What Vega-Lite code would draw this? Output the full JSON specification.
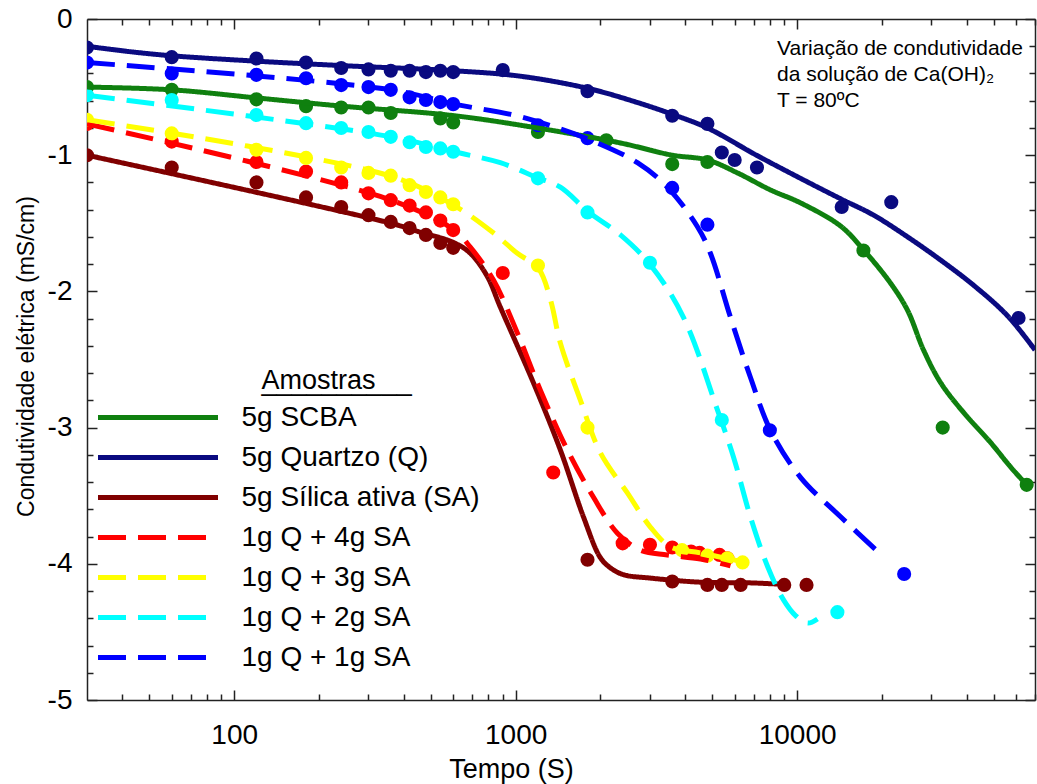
{
  "$schema": "https://vega.github.io/schema/vega-lite/v6.json",
  "width": 948,
  "height": 681,
  "autosize": {"type": "none"},
  "padding": {"left": 87, "top": 19, "right": 2, "bottom": 84},
  "background": "white",
  "config": {"font": "Liberation Sans", "view": {"stroke": null}},
  "title": {
    "text": ["Variação de condutividade", "da solução de Ca(OH)₂", "T = 80ºC"],
    "anchor": "start",
    "frame": "group",
    "orient": "top",
    "dx": 690,
    "offset": -106,
    "baseline": "top",
    "fontSize": 21,
    "fontWeight": "normal",
    "color": "black",
    "lineHeight": 26
  },
  "datasets": {
    "medidas": [
      {"amostra": "5g SCBA", "t": 30, "c": -0.50}, {"amostra": "5g SCBA", "t": 60, "c": -0.52}, {"amostra": "5g SCBA", "t": 120, "c": -0.59}, {"amostra": "5g SCBA", "t": 180, "c": -0.64}, {"amostra": "5g SCBA", "t": 240, "c": -0.65}, {"amostra": "5g SCBA", "t": 300, "c": -0.65}, {"amostra": "5g SCBA", "t": 360, "c": -0.69}, {"amostra": "5g SCBA", "t": 540, "c": -0.73}, {"amostra": "5g SCBA", "t": 600, "c": -0.76}, {"amostra": "5g SCBA", "t": 1200, "c": -0.83}, {"amostra": "5g SCBA", "t": 2100, "c": -0.89}, {"amostra": "5g SCBA", "t": 3600, "c": -1.065}, {"amostra": "5g SCBA", "t": 4800, "c": -1.05}, {"amostra": "5g SCBA", "t": 17200, "c": -1.70}, {"amostra": "5g SCBA", "t": 32900, "c": -3.00}, {"amostra": "5g SCBA", "t": 65400, "c": -3.42},
      {"amostra": "5g Quartzo (Q)", "t": 30, "c": -0.21}, {"amostra": "5g Quartzo (Q)", "t": 60, "c": -0.28}, {"amostra": "5g Quartzo (Q)", "t": 120, "c": -0.29}, {"amostra": "5g Quartzo (Q)", "t": 180, "c": -0.32}, {"amostra": "5g Quartzo (Q)", "t": 240, "c": -0.36}, {"amostra": "5g Quartzo (Q)", "t": 300, "c": -0.37}, {"amostra": "5g Quartzo (Q)", "t": 360, "c": -0.38}, {"amostra": "5g Quartzo (Q)", "t": 420, "c": -0.38}, {"amostra": "5g Quartzo (Q)", "t": 480, "c": -0.39}, {"amostra": "5g Quartzo (Q)", "t": 540, "c": -0.38}, {"amostra": "5g Quartzo (Q)", "t": 600, "c": -0.39}, {"amostra": "5g Quartzo (Q)", "t": 900, "c": -0.375}, {"amostra": "5g Quartzo (Q)", "t": 1800, "c": -0.53}, {"amostra": "5g Quartzo (Q)", "t": 3600, "c": -0.71}, {"amostra": "5g Quartzo (Q)", "t": 4800, "c": -0.77}, {"amostra": "5g Quartzo (Q)", "t": 5400, "c": -0.98}, {"amostra": "5g Quartzo (Q)", "t": 6000, "c": -1.035}, {"amostra": "5g Quartzo (Q)", "t": 7200, "c": -1.09}, {"amostra": "5g Quartzo (Q)", "t": 14400, "c": -1.38}, {"amostra": "5g Quartzo (Q)", "t": 21600, "c": -1.345}, {"amostra": "5g Quartzo (Q)", "t": 61200, "c": -2.195},
      {"amostra": "5g Sílica ativa (SA)", "t": 30, "c": -1.00}, {"amostra": "5g Sílica ativa (SA)", "t": 60, "c": -1.09}, {"amostra": "5g Sílica ativa (SA)", "t": 120, "c": -1.20}, {"amostra": "5g Sílica ativa (SA)", "t": 180, "c": -1.31}, {"amostra": "5g Sílica ativa (SA)", "t": 240, "c": -1.38}, {"amostra": "5g Sílica ativa (SA)", "t": 300, "c": -1.44}, {"amostra": "5g Sílica ativa (SA)", "t": 360, "c": -1.49}, {"amostra": "5g Sílica ativa (SA)", "t": 420, "c": -1.535}, {"amostra": "5g Sílica ativa (SA)", "t": 480, "c": -1.585}, {"amostra": "5g Sílica ativa (SA)", "t": 540, "c": -1.645}, {"amostra": "5g Sílica ativa (SA)", "t": 600, "c": -1.68}, {"amostra": "5g Sílica ativa (SA)", "t": 1800, "c": -3.97}, {"amostra": "5g Sílica ativa (SA)", "t": 3600, "c": -4.13}, {"amostra": "5g Sílica ativa (SA)", "t": 4800, "c": -4.155}, {"amostra": "5g Sílica ativa (SA)", "t": 5400, "c": -4.155}, {"amostra": "5g Sílica ativa (SA)", "t": 6300, "c": -4.155}, {"amostra": "5g Sílica ativa (SA)", "t": 9000, "c": -4.155}, {"amostra": "5g Sílica ativa (SA)", "t": 10800, "c": -4.155},
      {"amostra": "1g Q + 4g SA", "t": 30, "c": -0.77}, {"amostra": "1g Q + 4g SA", "t": 60, "c": -0.90}, {"amostra": "1g Q + 4g SA", "t": 120, "c": -1.05}, {"amostra": "1g Q + 4g SA", "t": 180, "c": -1.12}, {"amostra": "1g Q + 4g SA", "t": 240, "c": -1.20}, {"amostra": "1g Q + 4g SA", "t": 300, "c": -1.28}, {"amostra": "1g Q + 4g SA", "t": 360, "c": -1.33}, {"amostra": "1g Q + 4g SA", "t": 420, "c": -1.37}, {"amostra": "1g Q + 4g SA", "t": 480, "c": -1.42}, {"amostra": "1g Q + 4g SA", "t": 540, "c": -1.48}, {"amostra": "1g Q + 4g SA", "t": 600, "c": -1.55}, {"amostra": "1g Q + 4g SA", "t": 900, "c": -1.865}, {"amostra": "1g Q + 4g SA", "t": 1360, "c": -3.33}, {"amostra": "1g Q + 4g SA", "t": 2400, "c": -3.85}, {"amostra": "1g Q + 4g SA", "t": 3000, "c": -3.86}, {"amostra": "1g Q + 4g SA", "t": 3600, "c": -3.88}, {"amostra": "1g Q + 4g SA", "t": 4200, "c": -3.91}, {"amostra": "1g Q + 4g SA", "t": 4500, "c": -3.92}, {"amostra": "1g Q + 4g SA", "t": 5300, "c": -3.935}, {"amostra": "1g Q + 4g SA", "t": 5650, "c": -3.96},
      {"amostra": "1g Q + 3g SA", "t": 30, "c": -0.74}, {"amostra": "1g Q + 3g SA", "t": 60, "c": -0.84}, {"amostra": "1g Q + 3g SA", "t": 120, "c": -0.96}, {"amostra": "1g Q + 3g SA", "t": 180, "c": -1.02}, {"amostra": "1g Q + 3g SA", "t": 240, "c": -1.09}, {"amostra": "1g Q + 3g SA", "t": 300, "c": -1.13}, {"amostra": "1g Q + 3g SA", "t": 360, "c": -1.15}, {"amostra": "1g Q + 3g SA", "t": 420, "c": -1.22}, {"amostra": "1g Q + 3g SA", "t": 480, "c": -1.27}, {"amostra": "1g Q + 3g SA", "t": 540, "c": -1.31}, {"amostra": "1g Q + 3g SA", "t": 600, "c": -1.36}, {"amostra": "1g Q + 3g SA", "t": 1200, "c": -1.81}, {"amostra": "1g Q + 3g SA", "t": 1800, "c": -3.00}, {"amostra": "1g Q + 3g SA", "t": 3900, "c": -3.90}, {"amostra": "1g Q + 3g SA", "t": 4800, "c": -3.94}, {"amostra": "1g Q + 3g SA", "t": 5650, "c": -3.96}, {"amostra": "1g Q + 3g SA", "t": 6400, "c": -3.99},
      {"amostra": "1g Q + 2g SA", "t": 30, "c": -0.56}, {"amostra": "1g Q + 2g SA", "t": 60, "c": -0.595}, {"amostra": "1g Q + 2g SA", "t": 120, "c": -0.705}, {"amostra": "1g Q + 2g SA", "t": 180, "c": -0.765}, {"amostra": "1g Q + 2g SA", "t": 240, "c": -0.80}, {"amostra": "1g Q + 2g SA", "t": 300, "c": -0.83}, {"amostra": "1g Q + 2g SA", "t": 360, "c": -0.865}, {"amostra": "1g Q + 2g SA", "t": 420, "c": -0.905}, {"amostra": "1g Q + 2g SA", "t": 480, "c": -0.94}, {"amostra": "1g Q + 2g SA", "t": 540, "c": -0.95}, {"amostra": "1g Q + 2g SA", "t": 600, "c": -0.975}, {"amostra": "1g Q + 2g SA", "t": 1200, "c": -1.17}, {"amostra": "1g Q + 2g SA", "t": 1800, "c": -1.42}, {"amostra": "1g Q + 2g SA", "t": 3000, "c": -1.79}, {"amostra": "1g Q + 2g SA", "t": 5400, "c": -2.945}, {"amostra": "1g Q + 2g SA", "t": 13900, "c": -4.355},
      {"amostra": "1g Q + 1g SA", "t": 30, "c": -0.32}, {"amostra": "1g Q + 1g SA", "t": 60, "c": -0.40}, {"amostra": "1g Q + 1g SA", "t": 120, "c": -0.41}, {"amostra": "1g Q + 1g SA", "t": 180, "c": -0.435}, {"amostra": "1g Q + 1g SA", "t": 240, "c": -0.485}, {"amostra": "1g Q + 1g SA", "t": 300, "c": -0.50}, {"amostra": "1g Q + 1g SA", "t": 360, "c": -0.52}, {"amostra": "1g Q + 1g SA", "t": 420, "c": -0.575}, {"amostra": "1g Q + 1g SA", "t": 480, "c": -0.595}, {"amostra": "1g Q + 1g SA", "t": 540, "c": -0.61}, {"amostra": "1g Q + 1g SA", "t": 600, "c": -0.625}, {"amostra": "1g Q + 1g SA", "t": 1200, "c": -0.78}, {"amostra": "1g Q + 1g SA", "t": 1800, "c": -0.875}, {"amostra": "1g Q + 1g SA", "t": 3600, "c": -1.24}, {"amostra": "1g Q + 1g SA", "t": 4800, "c": -1.51}, {"amostra": "1g Q + 1g SA", "t": 8000, "c": -3.02}, {"amostra": "1g Q + 1g SA", "t": 24000, "c": -4.075}
    ],
    "ajustes": [
      {"amostra": "5g SCBA", "t": 30, "c": -0.50}, {"amostra": "5g SCBA", "t": 60, "c": -0.52}, {"amostra": "5g SCBA", "t": 121, "c": -0.58}, {"amostra": "5g SCBA", "t": 242, "c": -0.64}, {"amostra": "5g SCBA", "t": 605, "c": -0.71}, {"amostra": "5g SCBA", "t": 1194, "c": -0.80}, {"amostra": "5g SCBA", "t": 2355, "c": -0.91}, {"amostra": "5g SCBA", "t": 3605, "c": -1.00}, {"amostra": "5g SCBA", "t": 4800, "c": -1.035}, {"amostra": "5g SCBA", "t": 6140, "c": -1.13}, {"amostra": "5g SCBA", "t": 8040, "c": -1.255}, {"amostra": "5g SCBA", "t": 10280, "c": -1.35}, {"amostra": "5g SCBA", "t": 14270, "c": -1.52}, {"amostra": "5g SCBA", "t": 17220, "c": -1.695}, {"amostra": "5g SCBA", "t": 21480, "c": -1.94}, {"amostra": "5g SCBA", "t": 24690, "c": -2.14}, {"amostra": "5g SCBA", "t": 28120, "c": -2.43}, {"amostra": "5g SCBA", "t": 32340, "c": -2.67}, {"amostra": "5g SCBA", "t": 39050, "c": -2.89}, {"amostra": "5g SCBA", "t": 48700, "c": -3.11}, {"amostra": "5g SCBA", "t": 57370, "c": -3.29}, {"amostra": "5g SCBA", "t": 65380, "c": -3.42},
      {"amostra": "5g Quartzo (Q)", "t": 30, "c": -0.20}, {"amostra": "5g Quartzo (Q)", "t": 42.7, "c": -0.24}, {"amostra": "5g Quartzo (Q)", "t": 60, "c": -0.27}, {"amostra": "5g Quartzo (Q)", "t": 121, "c": -0.31}, {"amostra": "5g Quartzo (Q)", "t": 258, "c": -0.345}, {"amostra": "5g Quartzo (Q)", "t": 605, "c": -0.38}, {"amostra": "5g Quartzo (Q)", "t": 1039, "c": -0.42}, {"amostra": "5g Quartzo (Q)", "t": 1811, "c": -0.51}, {"amostra": "5g Quartzo (Q)", "t": 2774, "c": -0.62}, {"amostra": "5g Quartzo (Q)", "t": 3605, "c": -0.70}, {"amostra": "5g Quartzo (Q)", "t": 4800, "c": -0.80}, {"amostra": "5g Quartzo (Q)", "t": 7170, "c": -1.00}, {"amostra": "5g Quartzo (Q)", "t": 10280, "c": -1.17}, {"amostra": "5g Quartzo (Q)", "t": 14270, "c": -1.32}, {"amostra": "5g Quartzo (Q)", "t": 18690, "c": -1.44}, {"amostra": "5g Quartzo (Q)", "t": 24690, "c": -1.60}, {"amostra": "5g Quartzo (Q)", "t": 32340, "c": -1.77}, {"amostra": "5g Quartzo (Q)", "t": 42360, "c": -1.955}, {"amostra": "5g Quartzo (Q)", "t": 55970, "c": -2.18}, {"amostra": "5g Quartzo (Q)", "t": 70000, "c": -2.43},
      {"amostra": "5g Sílica ativa (SA)", "t": 30, "c": -1.00}, {"amostra": "5g Sílica ativa (SA)", "t": 361, "c": -1.50}, {"amostra": "5g Sílica ativa (SA)", "t": 458, "c": -1.565}, {"amostra": "5g Sílica ativa (SA)", "t": 600, "c": -1.64}, {"amostra": "5g Sílica ativa (SA)", "t": 690, "c": -1.72}, {"amostra": "5g Sílica ativa (SA)", "t": 793, "c": -1.89}, {"amostra": "5g Sílica ativa (SA)", "t": 882, "c": -2.115}, {"amostra": "5g Sílica ativa (SA)", "t": 1156, "c": -2.67}, {"amostra": "5g Sílica ativa (SA)", "t": 1442, "c": -3.165}, {"amostra": "5g Sílica ativa (SA)", "t": 1741, "c": -3.655}, {"amostra": "5g Sílica ativa (SA)", "t": 2000, "c": -3.955}, {"amostra": "5g Sílica ativa (SA)", "t": 2172, "c": -4.03}, {"amostra": "5g Sílica ativa (SA)", "t": 2416, "c": -4.08}, {"amostra": "5g Sílica ativa (SA)", "t": 3010, "c": -4.105}, {"amostra": "5g Sílica ativa (SA)", "t": 4536, "c": -4.135}, {"amostra": "5g Sílica ativa (SA)", "t": 6823, "c": -4.14}, {"amostra": "5g Sílica ativa (SA)", "t": 8730, "c": -4.15},
      {"amostra": "1g Q + 4g SA", "t": 30, "c": -0.77}, {"amostra": "1g Q + 4g SA", "t": 361, "c": -1.33}, {"amostra": "1g Q + 4g SA", "t": 605, "c": -1.55}, {"amostra": "1g Q + 4g SA", "t": 690, "c": -1.675}, {"amostra": "1g Q + 4g SA", "t": 833, "c": -1.915}, {"amostra": "1g Q + 4g SA", "t": 1014, "c": -2.305}, {"amostra": "1g Q + 4g SA", "t": 1224, "c": -2.725}, {"amostra": "1g Q + 4g SA", "t": 1527, "c": -3.165}, {"amostra": "1g Q + 4g SA", "t": 1888, "c": -3.51}, {"amostra": "1g Q + 4g SA", "t": 2299, "c": -3.775}, {"amostra": "1g Q + 4g SA", "t": 2774, "c": -3.90}, {"amostra": "1g Q + 4g SA", "t": 3460, "c": -3.935}, {"amostra": "1g Q + 4g SA", "t": 4536, "c": -3.965}, {"amostra": "1g Q + 4g SA", "t": 5796, "c": -4.015},
      {"amostra": "1g Q + 3g SA", "t": 30, "c": -0.74}, {"amostra": "1g Q + 3g SA", "t": 361, "c": -1.155}, {"amostra": "1g Q + 3g SA", "t": 605, "c": -1.37}, {"amostra": "1g Q + 3g SA", "t": 833, "c": -1.57}, {"amostra": "1g Q + 3g SA", "t": 1014, "c": -1.72}, {"amostra": "1g Q + 3g SA", "t": 1204, "c": -1.83}, {"amostra": "1g Q + 3g SA", "t": 1329, "c": -2.06}, {"amostra": "1g Q + 3g SA", "t": 1442, "c": -2.38}, {"amostra": "1g Q + 3g SA", "t": 1699, "c": -2.80}, {"amostra": "1g Q + 3g SA", "t": 2000, "c": -3.185}, {"amostra": "1g Q + 3g SA", "t": 2494, "c": -3.48}, {"amostra": "1g Q + 3g SA", "t": 3010, "c": -3.73}, {"amostra": "1g Q + 3g SA", "t": 3548, "c": -3.875}, {"amostra": "1g Q + 3g SA", "t": 4536, "c": -3.92}, {"amostra": "1g Q + 3g SA", "t": 6398, "c": -3.985},
      {"amostra": "1g Q + 2g SA", "t": 30, "c": -0.56}, {"amostra": "1g Q + 2g SA", "t": 361, "c": -0.865}, {"amostra": "1g Q + 2g SA", "t": 605, "c": -0.975}, {"amostra": "1g Q + 2g SA", "t": 882, "c": -1.055}, {"amostra": "1g Q + 2g SA", "t": 1194, "c": -1.165}, {"amostra": "1g Q + 2g SA", "t": 1442, "c": -1.235}, {"amostra": "1g Q + 2g SA", "t": 1811, "c": -1.415}, {"amostra": "1g Q + 2g SA", "t": 2356, "c": -1.585}, {"amostra": "1g Q + 2g SA", "t": 3010, "c": -1.805}, {"amostra": "1g Q + 2g SA", "t": 3946, "c": -2.19}, {"amostra": "1g Q + 2g SA", "t": 5210, "c": -2.87}, {"amostra": "1g Q + 2g SA", "t": 5941, "c": -3.215}, {"amostra": "1g Q + 2g SA", "t": 6823, "c": -3.655}, {"amostra": "1g Q + 2g SA", "t": 7853, "c": -4.02}, {"amostra": "1g Q + 2g SA", "t": 8947, "c": -4.265}, {"amostra": "1g Q + 2g SA", "t": 9870, "c": -4.38}, {"amostra": "1g Q + 2g SA", "t": 10900, "c": -4.435}, {"amostra": "1g Q + 2g SA", "t": 11815, "c": -4.405},
      {"amostra": "1g Q + 1g SA", "t": 30, "c": -0.32}, {"amostra": "1g Q + 1g SA", "t": 361, "c": -0.52}, {"amostra": "1g Q + 1g SA", "t": 605, "c": -0.625}, {"amostra": "1g Q + 1g SA", "t": 982, "c": -0.705}, {"amostra": "1g Q + 1g SA", "t": 1407, "c": -0.80}, {"amostra": "1g Q + 1g SA", "t": 1951, "c": -0.91}, {"amostra": "1g Q + 1g SA", "t": 2708, "c": -1.055}, {"amostra": "1g Q + 1g SA", "t": 3460, "c": -1.235}, {"amostra": "1g Q + 1g SA", "t": 4425, "c": -1.525}, {"amostra": "1g Q + 1g SA", "t": 4920, "c": -1.72}, {"amostra": "1g Q + 1g SA", "t": 5796, "c": -2.19}, {"amostra": "1g Q + 1g SA", "t": 6823, "c": -2.63}, {"amostra": "1g Q + 1g SA", "t": 8043, "c": -3.02}, {"amostra": "1g Q + 1g SA", "t": 10280, "c": -3.365}, {"amostra": "1g Q + 1g SA", "t": 14270, "c": -3.655}, {"amostra": "1g Q + 1g SA", "t": 20290, "c": -3.95}
    ]
  },
  "layer": [
    {
      "data": {"name": "medidas"},
      "mark": {"type": "circle", "size": 200, "opacity": 1, "clip": true},
      "encoding": {
        "x": {
          "field": "t", "type": "quantitative",
          "scale": {"type": "log", "domain": [30, 70000], "nice": false},
          "axis": {
            "orient": "bottom",
            "values": [40, 50, 60, 70, 80, 90, 100, 200, 300, 400, 500, 600, 700, 800, 900, 1000, 2000, 3000, 4000, 5000, 6000, 7000, 8000, 9000, 10000, 20000, 30000, 40000, 50000, 60000, 70000],
            "labelExpr": "datum.value == 100 || datum.value == 1000 || datum.value == 10000 ? '' + datum.value : ''",
            "labelFontSize": 28, "labelColor": "black", "labelPadding": 31, "labelFlush": false, "labelOverlap": false,
            "tickSize": {"condition": {"test": "datum.value == 100 || datum.value == 1000 || datum.value == 10000", "value": -10}, "value": -6},
            "tickColor": "#222", "tickWidth": 1.5, "domainColor": "#222", "domainWidth": 1.5, "grid": false,
            "title": "Tempo (S)", "titleFontSize": 27, "titleFontWeight": "normal", "titleColor": "black",
            "titleX": 424, "titleY": 77, "titleBaseline": "alphabetic"
          }
        },
        "y": {
          "field": "c", "type": "quantitative",
          "scale": {"domain": [-5, 0], "nice": false},
          "axis": {
            "orient": "left",
            "values": [-5, -4.8, -4.6, -4.4, -4.2, -4, -3.8, -3.6, -3.4, -3.2, -3, -2.8, -2.6, -2.4, -2.2, -2, -1.8, -1.6, -1.4, -1.2, -1, -0.8, -0.6, -0.4, -0.2, 0],
            "labelExpr": "abs(datum.value - round(datum.value)) < 0.001 ? (datum.value == 0 ? '0' : '-' + abs(round(datum.value))) : ''",
            "labelFontSize": 28, "labelColor": "black", "labelPadding": 25, "labelOverlap": false,
            "tickSize": {"condition": {"test": "abs(datum.value - round(datum.value)) < 0.001", "value": -10}, "value": -6},
            "tickColor": "#222", "tickWidth": 1.5, "domainColor": "#222", "domainWidth": 1.5, "grid": false,
            "title": "Condutividade elétrica (mS/cm)", "titleFontSize": 23, "titleFontWeight": "normal", "titleColor": "black",
            "titleX": -54, "titleY": 337, "titleBaseline": "alphabetic"
          }
        },
        "color": {
          "field": "amostra", "type": "nominal",
          "scale": {
            "domain": ["5g SCBA", "5g Quartzo (Q)", "5g Sílica ativa (SA)", "1g Q + 4g SA", "1g Q + 3g SA", "1g Q + 2g SA", "1g Q + 1g SA"],
            "range": ["#0f800f", "#0a0a80", "#800000", "#ff0000", "#ffff00", "#00ffff", "#0000ff"]
          },
          "legend": {
            "orient": "none", "legendX": 8.5, "legendY": 349, "padding": 0,
            "title": ["\u00a0Amostras", "__________"],
            "titleFontSize": 27, "titleFontWeight": "normal", "titleColor": "black", "titleLineHeight": 0.5, "titlePadding": 8,
            "labelFontSize": 28, "labelColor": "black", "labelOffset": 21, "labelLimit": 0,
            "symbolType": "stroke", "symbolSize": 14400, "symbolStrokeWidth": 5,
            "clipHeight": 28, "rowPadding": 12,
            "encode": {"title": {"update": {"dx": {"value": 166}}}}
          }
        }
      }
    },
    {
      "data": {"name": "ajustes"},
      "mark": {"type": "line", "strokeWidth": 5, "interpolate": "catmull-rom", "clip": true},
      "encoding": {
        "x": {
          "field": "t", "type": "quantitative",
          "axis": {
            "orient": "top",
            "values": [40, 50, 60, 70, 80, 90, 100, 200, 300, 400, 500, 600, 700, 800, 900, 1000, 2000, 3000, 4000, 5000, 6000, 7000, 8000, 9000, 10000, 20000, 30000, 40000, 50000, 60000, 70000],
            "labels": false, "title": null,
            "tickSize": {"condition": {"test": "datum.value == 100 || datum.value == 1000 || datum.value == 10000", "value": -10}, "value": -6},
            "tickColor": "#222", "tickWidth": 1.5, "domainColor": "#222", "domainWidth": 1.5, "grid": false
          }
        },
        "y": {
          "field": "c", "type": "quantitative",
          "axis": {
            "orient": "right",
            "values": [-5, -4.8, -4.6, -4.4, -4.2, -4, -3.8, -3.6, -3.4, -3.2, -3, -2.8, -2.6, -2.4, -2.2, -2, -1.8, -1.6, -1.4, -1.2, -1, -0.8, -0.6, -0.4, -0.2, 0],
            "labels": false, "title": null,
            "tickSize": {"condition": {"test": "abs(datum.value - round(datum.value)) < 0.001", "value": -10}, "value": -6},
            "tickColor": "#222", "tickWidth": 1.5, "domainColor": "#222", "domainWidth": 1.5, "grid": false
          }
        },
        "color": {
          "field": "amostra", "type": "nominal",
          "legend": {
            "orient": "none", "legendX": 8.5, "legendY": 349, "padding": 0,
            "title": ["\u00a0Amostras", "__________"],
            "titleFontSize": 27, "titleFontWeight": "normal", "titleColor": "black", "titleLineHeight": 0.5, "titlePadding": 8,
            "labelFontSize": 28, "labelColor": "black", "labelOffset": 21, "labelLimit": 0,
            "symbolType": "stroke", "symbolSize": 14400, "symbolStrokeWidth": 5,
            "clipHeight": 28, "rowPadding": 12,
            "encode": {"title": {"update": {"dx": {"value": 166}}}}
          }
        },
        "strokeDash": {
          "field": "amostra", "type": "nominal",
          "scale": {
            "domain": ["5g SCBA", "5g Quartzo (Q)", "5g Sílica ativa (SA)", "1g Q + 4g SA", "1g Q + 3g SA", "1g Q + 2g SA", "1g Q + 1g SA"],
            "range": [[1, 0], [1, 0], [1, 0], [28, 12], [28, 12], [28, 12], [28, 12]]
          },
          "legend": {
            "orient": "none", "legendX": 8.5, "legendY": 349, "padding": 0,
            "title": ["\u00a0Amostras", "__________"],
            "titleFontSize": 27, "titleFontWeight": "normal", "titleColor": "black", "titleLineHeight": 0.5, "titlePadding": 8,
            "labelFontSize": 28, "labelColor": "black", "labelOffset": 21, "labelLimit": 0,
            "symbolType": "stroke", "symbolSize": 14400, "symbolStrokeWidth": 5,
            "clipHeight": 28, "rowPadding": 12,
            "encode": {"title": {"update": {"dx": {"value": 166}}}}
          }
        }
      }
    }
  ],
  "resolve": {"axis": {"x": "independent", "y": "independent"}}
}
